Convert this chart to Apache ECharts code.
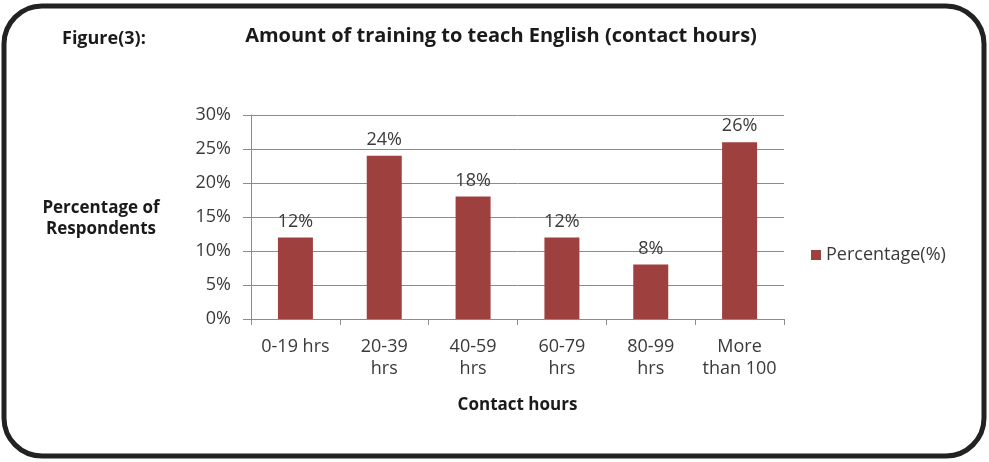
<!DOCTYPE html>
<html>
<head>
<meta charset="utf-8">
<script src="https://cdn.jsdelivr.net/npm/echarts@6/dist/echarts.min.js"></script>
<style>
  html, body { margin: 0; padding: 0; background: #fff; }
  #chart { width: 989px; height: 462px; }
</style>
</head>
<body>
<div id="chart"></div>
<script>
// contact hour bands (tick labels wrap the way the original does)
const categories = ["0-19 hrs", "20-39\nhrs", "40-59\nhrs", "60-79\nhrs", "80-99\nhrs", "More\nthan 100"];
const percentages = [12, 24, 18, 12, 8, 26];
const yTicks = [0, 5, 10, 15, 20, 25, 30];

const seriesName = "Percentage(%)";
const barColor = "#9E413E";
const textColor = "#3a3a3a";
const fontFamily = "'Open Sans', sans-serif";

const chart = echarts.init(document.getElementById("chart"));

chart.setOption({
  animation: false,
  textStyle: { fontFamily: fontFamily },
  title: {
    text: "Amount of training to teach English (contact hours)",
    left: 496,
    top: 21,
    textAlign: "center",
    textStyle: { fontSize: 20, fontWeight: "bold", color: "#1a1a1a", fontFamily: fontFamily }
  },
  graphic: [
    {
      type: "rect",
      shape: { x: 4, y: 6, width: 980, height: 450, r: 38 },
      style: { fill: "none", stroke: "#222", lineWidth: 5 },
      z: 100
    },
    {
      type: "text",
      left: 62,
      top: 30,
      style: { text: "Figure(3):", fontSize: 18, fontWeight: "bold", fill: "#1a1a1a", fontFamily: fontFamily }
    },
    {
      type: "text",
      x: 101,
      y: 219,
      style: {
        text: "Percentage of\nRespondents",
        fontSize: 17,
        fontWeight: "bold",
        fill: "#1a1a1a",
        align: "center",
        verticalAlign: "middle",
        lineHeight: 21,
        fontFamily: fontFamily
      }
    }
  ],
  legend: {
    data: [seriesName],
    left: 806,
    top: 241,
    itemWidth: 10,
    itemHeight: 10,
    itemGap: 10,
    icon: "rect",
    textStyle: { fontSize: 18, color: textColor, fontFamily: fontFamily }
  },
  grid: { left: 251, right: 205, top: 115, bottom: 143 },
  xAxis: {
    type: "category",
    data: categories,
    name: "Contact hours",
    nameLocation: "middle",
    nameGap: 78,
    nameTextStyle: { fontSize: 17, fontWeight: "bold", color: "#1a1a1a" },
    axisLine: { lineStyle: { color: "#8c8c8c" } },
    axisTick: { show: true, length: 6, alignWithLabel: false, lineStyle: { color: "#8c8c8c" } },
    axisLabel: { interval: 0, fontSize: 18, color: textColor, margin: 17, lineHeight: 22 }
  },
  yAxis: {
    type: "value",
    min: yTicks[0],
    max: yTicks[yTicks.length - 1],
    interval: yTicks[1] - yTicks[0],
    axisLine: { show: true, lineStyle: { color: "#8c8c8c" } },
    axisTick: { show: true, length: 8, lineStyle: { color: "#8c8c8c" } },
    splitLine: { lineStyle: { color: "#8c8c8c" } },
    axisLabel: { fontSize: 18, color: textColor, margin: 20, formatter: "{value}%" }
  },
  series: [
    {
      name: seriesName,
      type: "bar",
      data: percentages,
      barWidth: 35,
      itemStyle: { color: barColor },
      label: {
        show: true,
        position: "top",
        distance: 7,
        formatter: "{c}%",
        fontSize: 18,
        color: textColor
      }
    }
  ]
});
</script>
</body>
</html>
